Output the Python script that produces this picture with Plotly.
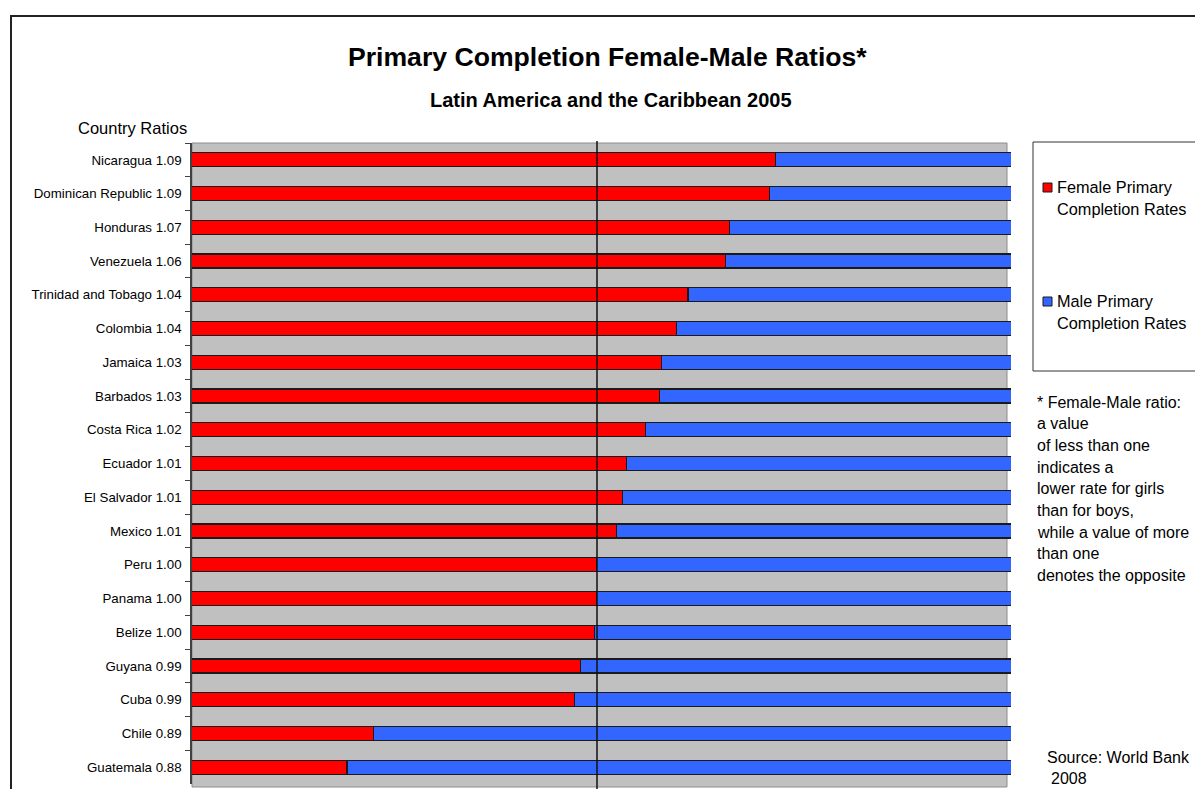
import plotly.graph_objects as go

# Primary completion female-to-male ratios, Latin America and the Caribbean, 2005
countries = [
    "Nicaragua", "Dominican Republic", "Honduras", "Venezuela",
    "Trinidad and Tobago", "Colombia", "Jamaica", "Barbados", "Costa Rica",
    "Ecuador", "El Salvador", "Mexico", "Peru", "Panama", "Belize",
    "Guyana", "Cuba", "Chile", "Guatemala",
]
ratios = [
    1.091, 1.088, 1.066, 1.064, 1.044, 1.038, 1.030, 1.029, 1.022,
    1.012, 1.010, 1.007, 0.997, 0.997, 0.996, 0.989, 0.986, 0.891, 0.879,
]
series_names = ["Female Primary<br>Completion Rates", "Male Primary<br>Completion Rates"]
series_colors = ["#FF0000", "#3366FF"]

footnote_lines = [
    "* Female-Male ratio:",
    "a value",
    "of less than one",
    "indicates a",
    "lower rate for girls",
    "than for boys,",
    "while a value of more",
    "than one",
    "denotes the opposite",
]

# Category labels carry the rounded ratio
labels = [f"{c} {r:.2f}" for c, r in zip(countries, ratios)]
# Each bar is split into the female and male share of the combined rate
female_share = [r / (1 + r) for r in ratios]
male_share = [1 / (1 + r) for r in ratios]

W, H = 1195, 789
L, R, T, B = 192, 1011, 143, 784  # plot area in pixels
FONT = "Liberation Sans, Arial, sans-serif"


def xp(px):
    return (px - L) / (R - L)


def yp(py):
    return (B - py) / (B - T)


fig = go.Figure()
for name, vals, col in zip(series_names, [female_share, male_share], series_colors):
    fig.add_trace(go.Bar(
        y=labels, x=vals, orientation="h", name=name,
        marker=dict(color=col, line=dict(color="#1a1a1a", width=1.2)),
        showlegend=False,
    ))

shapes = [
    # grey plot background
    dict(type="rect", xref="paper", yref="paper", x0=0, x1=xp(1007), y0=yp(787), y1=1,
         fillcolor="#C0C0C0", line=dict(color="#8c8c8c", width=1), layer="below"),
    # parity line
    dict(type="line", xref="paper", yref="paper", x0=xp(597), x1=xp(597), y0=yp(795), y1=yp(141),
         line=dict(color="#111111", width=1.5), layer="above"),
    # outer chart frame
    dict(type="rect", xref="paper", yref="paper", x0=xp(11), x1=xp(1210), y0=yp(800), y1=yp(16),
         line=dict(color="#222222", width=2), fillcolor="rgba(0,0,0,0)", layer="above"),
    # legend box
    dict(type="rect", xref="paper", yref="paper", x0=xp(1033), x1=xp(1210), y0=yp(371), y1=yp(142),
         line=dict(color="#333333", width=1), fillcolor="rgba(0,0,0,0)", layer="above"),
]

annotations = [
    dict(text="<b>Primary Completion Female-Male Ratios*</b>", x=xp(607), y=yp(57),
         font=dict(size=26.6, color="#000000", family=FONT)),
    dict(text="<b>Latin America and the Caribbean 2005</b>", x=xp(611), y=yp(100),
         font=dict(size=20, color="#000000", family=FONT)),
    dict(text="Country Ratios", x=xp(76), y=yp(128), xanchor="left",
         font=dict(size=16.5, color="#000000", family=FONT)),
    dict(text="Source: World Bank", x=xp(1045), y=yp(757), xanchor="left",
         font=dict(size=16, color="#000000", family=FONT)),
    dict(text="2008", x=xp(1049), y=yp(778), xanchor="left",
         font=dict(size=16, color="#000000", family=FONT)),
]

# legend entries drawn by hand inside the box
legend_rows = [187, 301]
for name, col, yrow in zip(series_names, series_colors, legend_rows):
    shapes.append(dict(type="rect", xref="paper", yref="paper",
                       x0=xp(1043), x1=xp(1052), y0=yp(yrow + 5), y1=yp(yrow - 4),
                       fillcolor=col, line=dict(color="#1a1a1a", width=1), layer="above"))
    for k, part in enumerate(name.split("<br>")):
        annotations.append(dict(text=part, x=xp(1055), y=yp(yrow + 22 * k), xanchor="left",
                                font=dict(size=16.3, color="#000000", family=FONT)))

for k, line in enumerate(footnote_lines):
    annotations.append(dict(text=line, x=xp(1035), y=yp(402 + 21.7 * k), xanchor="left",
                            font=dict(size=16, color="#000000", family=FONT)))

for a in annotations:
    a.setdefault("xanchor", "center")
    a["yanchor"] = "middle"
    a["xref"] = "paper"
    a["yref"] = "paper"
    a["showarrow"] = False

fig.update_layout(
    width=W, height=H,
    margin=dict(l=L, r=W - R, t=T, b=H - B, pad=0),
    barmode="stack", bargap=0.585,
    paper_bgcolor="white", plot_bgcolor="white",
    xaxis=dict(range=[0.448267, 0.551461], visible=False, showgrid=False, zeroline=False),
    yaxis=dict(type="category", autorange="reversed", tickson="boundaries",
               ticks="outside", ticklen=5, tickcolor="#404040", showline=True,
               linecolor="#404040", linewidth=1.5, showgrid=False, ticklabelstandoff=6,
               tickfont=dict(size=13.3, color="#000000", family=FONT)),
    shapes=shapes, annotations=annotations,
    font=dict(family=FONT),
)

fig.write_html("out.html")
